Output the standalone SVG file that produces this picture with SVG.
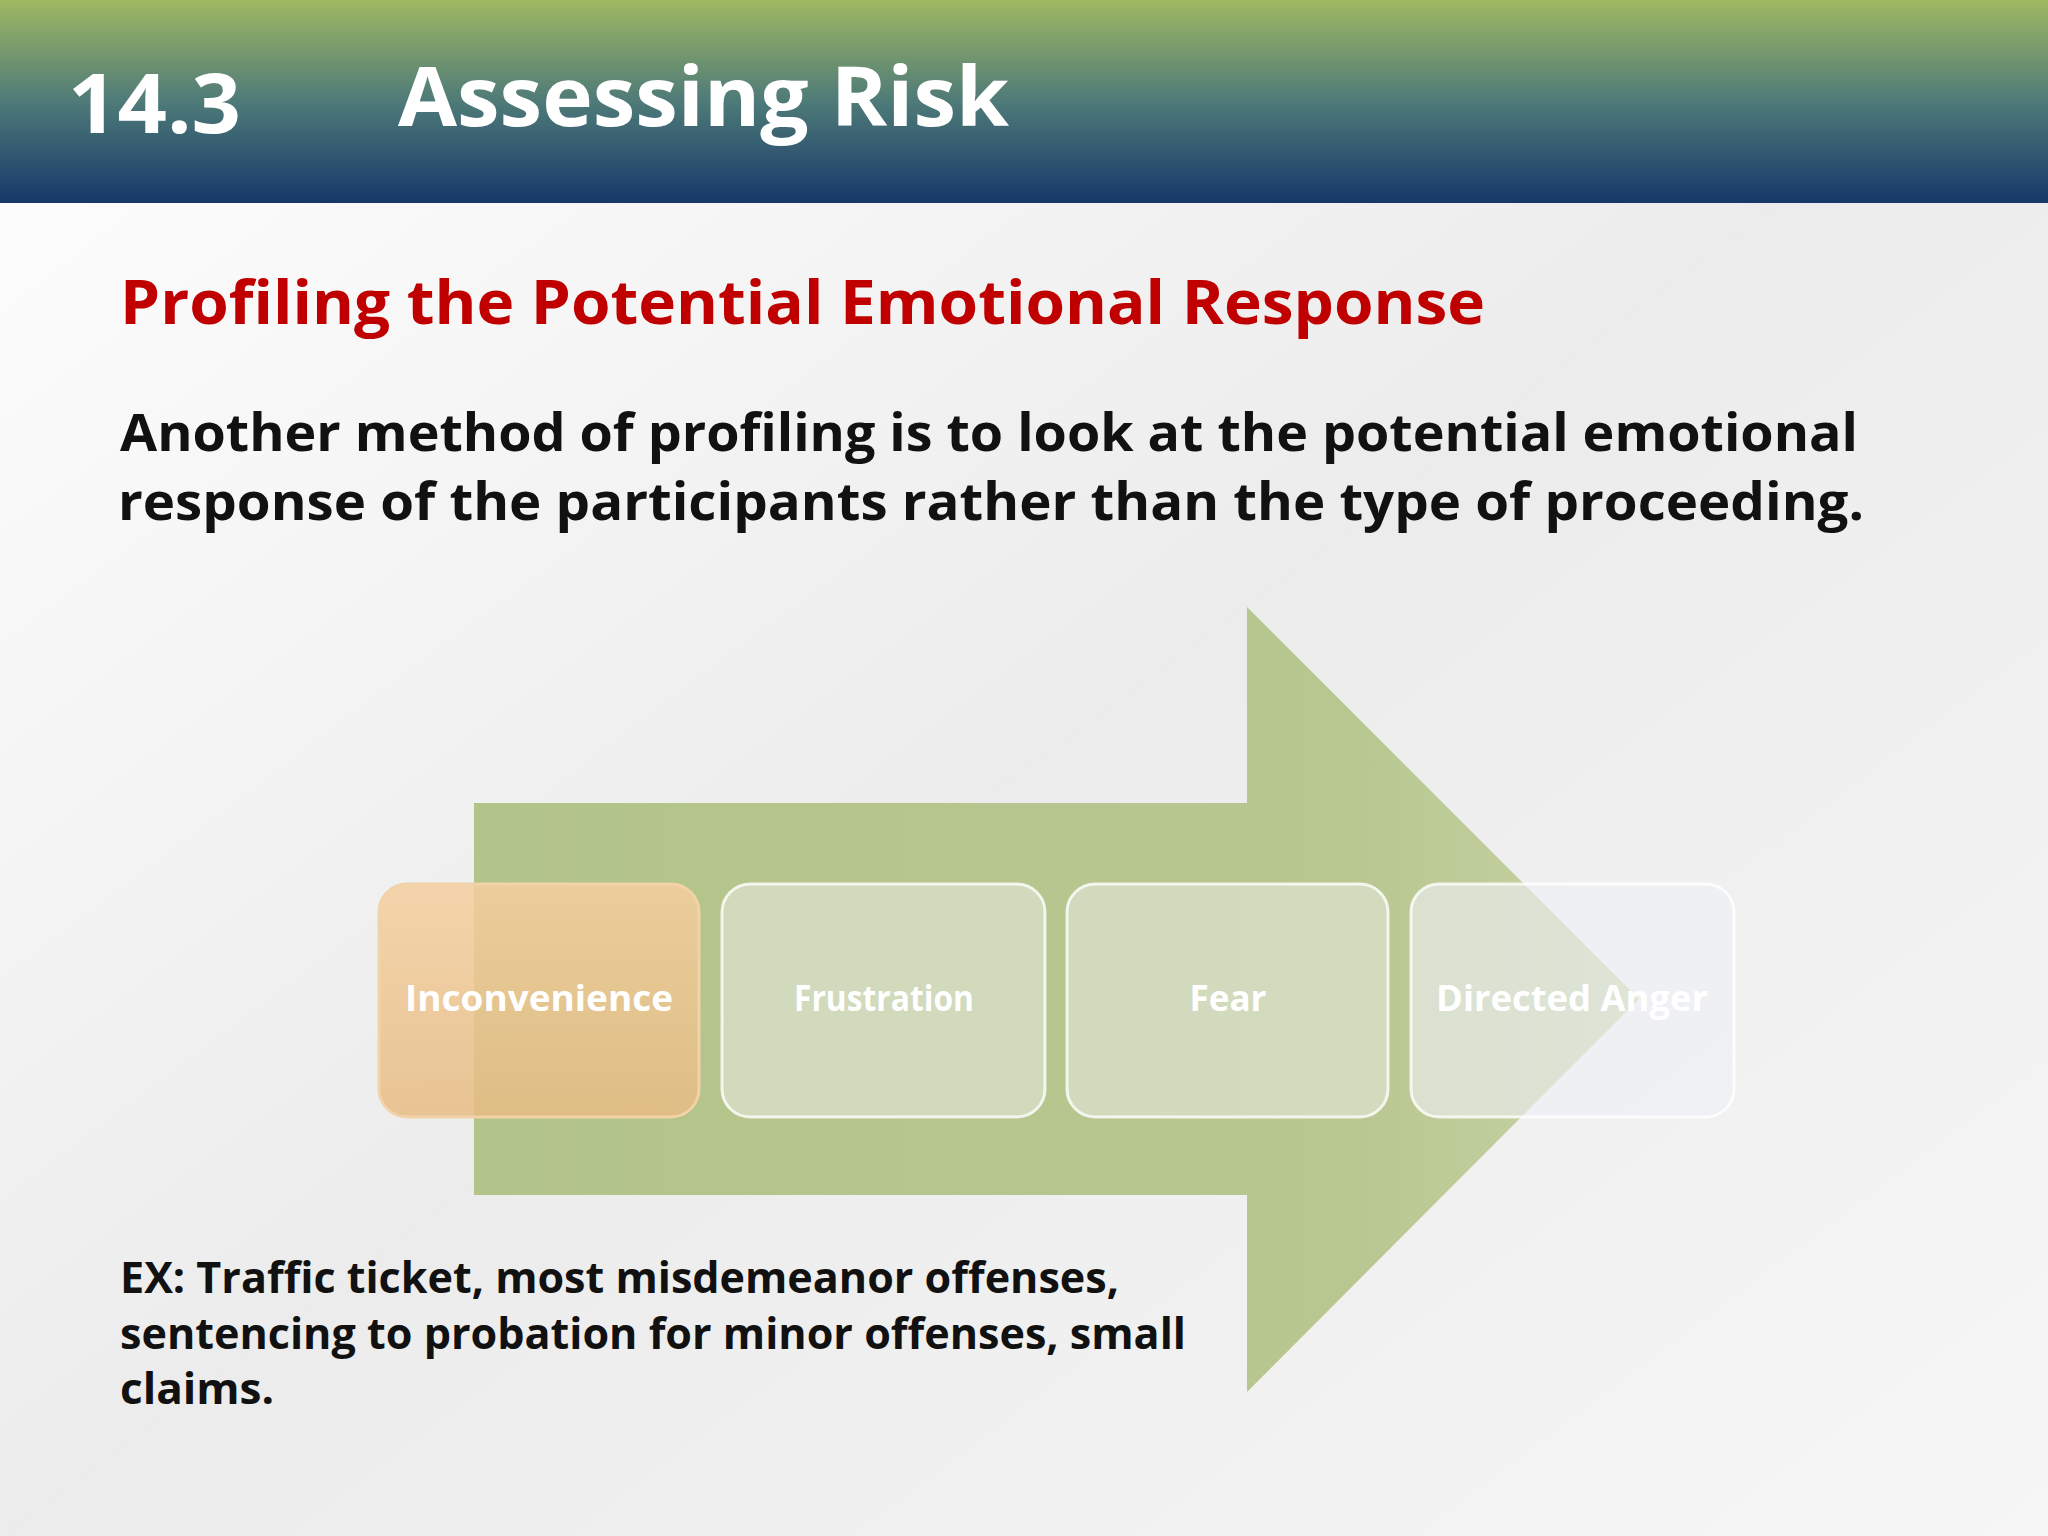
<svg xmlns="http://www.w3.org/2000/svg" width="2048" height="1536" viewBox="0 0 2048 1536">
<defs>
<linearGradient id="hdr" x1="0" y1="0" x2="0" y2="1"><stop offset="0" stop-color="#9fb862"/><stop offset="0.5" stop-color="#4e7a78"/><stop offset="1" stop-color="#16386a"/></linearGradient>
<linearGradient id="bg" x1="0" y1="0" x2="1" y2="1"><stop offset="0" stop-color="#ffffff"/><stop offset="0.5" stop-color="#ececec"/><stop offset="1" stop-color="#f6f6f6"/></linearGradient>
<linearGradient id="arr" x1="0" y1="0" x2="1" y2="0"><stop offset="0" stop-color="#b3c48a"/><stop offset="0.75" stop-color="#b8c790"/><stop offset="1" stop-color="#c7d3a6"/></linearGradient>
<linearGradient id="b1" x1="0" y1="0" x2="0" y2="1"><stop offset="0" stop-color="#f4cf9e" stop-opacity="0.85"/><stop offset="1" stop-color="#e7bc84" stop-opacity="0.85"/></linearGradient>
<style>
.t{font-family:"Open Sans","Liberation Sans",sans-serif;font-weight:bold}
.box{fill:#e4e7dc;fill-opacity:0.6;stroke:#ffffff;stroke-opacity:0.8;stroke-width:3}
.bl{font-family:"Open Sans","Liberation Sans",sans-serif;font-weight:bold;font-size:35px;fill:#ffffff;text-anchor:middle}
</style>
</defs>
<rect width="2048" height="1536" fill="url(#bg)"/>
<rect width="2048" height="203" fill="url(#hdr)"/>
<text class="t" x="68" y="133" font-size="82" fill="#ffffff" textLength="173" lengthAdjust="spacingAndGlyphs">14.3</text>
<text class="t" x="398" y="126" font-size="82" fill="#ffffff" textLength="611" lengthAdjust="spacingAndGlyphs">Assessing Risk</text>
<text class="t" x="120" y="324" font-size="60" fill="#c00000" textLength="1365" lengthAdjust="spacingAndGlyphs">Profiling the Potential Emotional Response</text>
<text class="t" x="120" y="451" font-size="52" fill="#111" textLength="1738" lengthAdjust="spacingAndGlyphs">Another method of profiling is to look at the potential emotional</text>
<text class="t" x="118" y="520" font-size="52" fill="#111" textLength="1746" lengthAdjust="spacingAndGlyphs">response of the participants rather than the type of proceeding.</text>
<g id="arrow"><polygon points="474,803 1247,803 1247,607 1639,999 1247,1392 1247,1195 474,1195" fill="url(#arr)"/></g>
<g id="n1"><rect x="379" y="884" width="320" height="233" rx="28" fill="url(#b1)" stroke="#f2d2a8" stroke-width="3"/><text class="bl" x="539" y="1011" textLength="268" lengthAdjust="spacingAndGlyphs">Inconvenience</text></g>
<g id="n2"><rect class="box" x="722" y="884" width="323" height="233" rx="28"/><text class="bl" x="884" y="1011" textLength="180" lengthAdjust="spacingAndGlyphs">Frustration</text></g>
<g id="n3"><rect class="box" x="1067" y="884" width="321" height="233" rx="28"/><text class="bl" x="1228" y="1011">Fear</text></g>
<g id="n4"><rect class="box" x="1411" y="884" width="323" height="233" rx="28" style="fill:#eef0f6"/><text class="bl" x="1572" y="1011" textLength="272" lengthAdjust="spacingAndGlyphs">Directed Anger</text></g>
<g id="connectors"></g>
<g class="t" font-size="43" fill="#111">
<text x="120" y="1293" textLength="999" lengthAdjust="spacingAndGlyphs">EX: Traffic ticket, most misdemeanor offenses,</text>
<text x="120" y="1349" textLength="1066" lengthAdjust="spacingAndGlyphs">sentencing to probation for minor offenses, small</text>
<text x="120" y="1404" textLength="154" lengthAdjust="spacingAndGlyphs">claims.</text>
</g>
</svg>
